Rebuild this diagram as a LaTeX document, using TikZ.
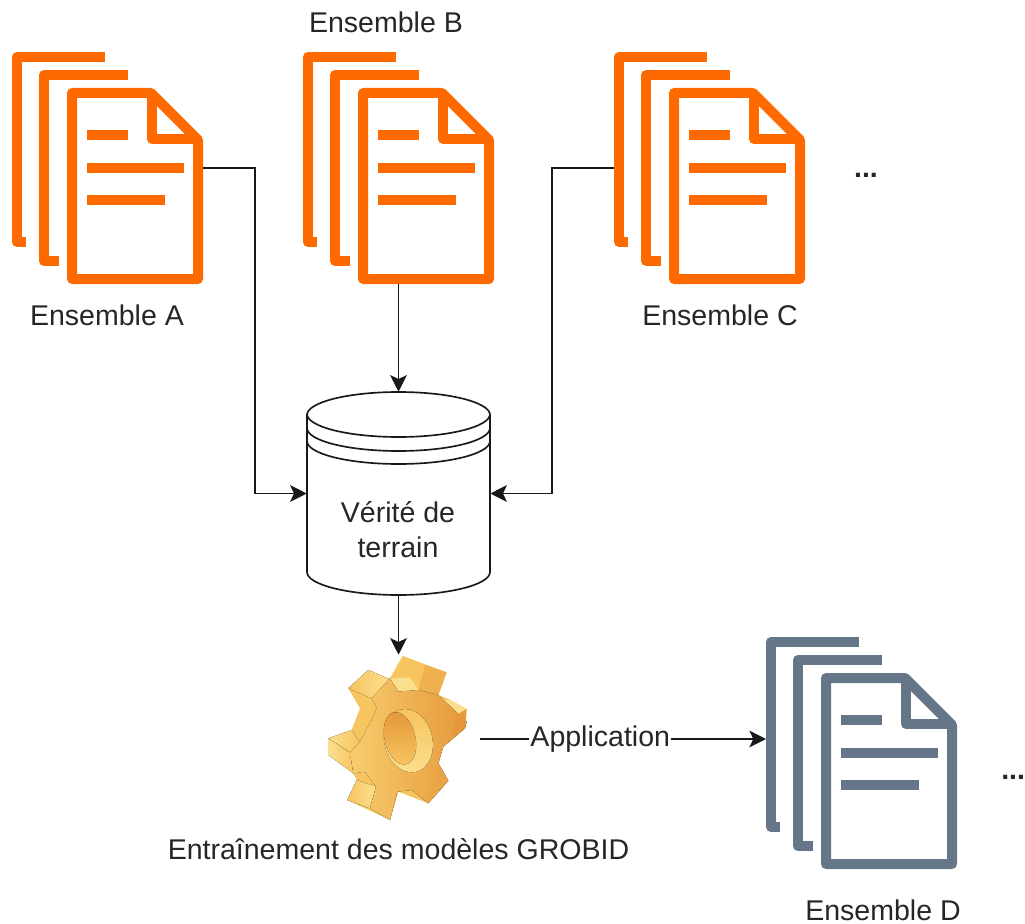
\documentclass[tikz,border=0pt]{standalone}
\usepackage{fontspec}
\setmainfont{Liberation Sans}
\usetikzlibrary{arrows.meta,calc}
\definecolor{docorange}{HTML}{FF6A00}
\definecolor{docslate}{HTML}{647687}
\definecolor{goldlight}{HTML}{FBDF8E}
\definecolor{goldmid}{HTML}{F6C560}
\definecolor{golddark}{HTML}{E6983A}
\tikzset{
  link/.style={draw=black!90,line width=1.25pt,-{Stealth[length=12.5pt,width=12.5pt,inset=3pt]}},
  plainlabel/.style={inner sep=0pt,font=\fontsize{21.4}{26}\selectfont,text=black!85},
  tankline/.style={draw=black!90,line width=1.25pt},
  docline/.style={line width=7.5pt,line join=round},
  pics/docstack/.style={code={
      \draw[docline,#1] (93,5) -- (5,5) -- (5,190) -- (14,190);
      \draw[docline,#1] (116,23) -- (32,23) -- (32,209) -- (47,209);
      \draw[docline,#1,fill=white] (60,41) -- (139,41) -- (186,88) -- (186,227) -- (60,227) -- cycle;
      \draw[docline,#1] (140,41) -- (140,87) -- (186,87);
      \draw[docline,#1] (75,83) -- (116,83);
      \draw[docline,#1] (75,116) -- (172,116);
      \draw[docline,#1] (75,148) -- (153,148);
      \coordinate (-east) at (191,116);
      \coordinate (-west) at (0,116);
      \coordinate (-south) at (95.5,232);
  }}
}
\begin{document}
\begin{tikzpicture}[x=0.75pt,y=-0.75pt]
  \useasboundingbox (0,0) rectangle (1025,924);
  % document stacks
  \pic (docA) at (12,52) {docstack=docorange};
  \pic (docB) at (303,52) {docstack=docorange};
  \pic (docC) at (614,52) {docstack=docorange};
  \pic (docD) at (766,637) {docstack=docslate};
  \node[plainlabel] (labelA) at (107,315) {Ensemble A};
  \node[plainlabel] (labelB) at (386,22) {Ensemble B};
  \node[plainlabel] (labelC) at (720,315) {Ensemble C};
  \node[plainlabel] (labelD) at (883,910) {Ensemble D};
  \node[plainlabel] (dotsC) at (866,175) {\textbf{...}};
  \node[plainlabel,anchor=west] (dotsD) at (1001,777) {\textbf{...}};
  % ground truth cylinder
  \node[minimum width=137.25pt,minimum height=152.25pt,inner sep=0pt] (truth) at (398.5,493.5) {};
  \draw[tankline] (307,415) arc[x radius=91.5,y radius=23,start angle=180,end angle=360]
    -- (490,572) arc[x radius=91.5,y radius=23,start angle=0,end angle=180] -- cycle;
  \draw[tankline] (307,414) arc[x radius=91.5,y radius=23,start angle=180,end angle=0];
  \draw[tankline] (307,428) arc[x radius=91.5,y radius=23,start angle=180,end angle=0];
  \draw[tankline] (307,441) arc[x radius=91.5,y radius=23,start angle=180,end angle=0];
  \node[plainlabel] (truthA) at (398,512) {Vérité de};
  \node[plainlabel] (truthB) at (398,547) {terrain};
  % gear
  \node[minimum width=122.25pt,minimum height=126pt,inner sep=0pt] (gear) at (398.5,739) {};
  \begin{scope}[shift={(310,640)},x=0.25pt,y=-0.25pt]
    % back silhouette
    \fill[goldmid] (278,48) -- (410,97) -- (385,165) -- (418,178) -- (470,207) -- (465,265) -- (400,320)
      -- (385,370) -- (415,422) -- (355,490) -- (265,455) -- (240,540) -- (112,480) -- (140,420)
      -- (130,400) -- (55,345) -- (55,295) -- (125,270) -- (150,205) -- (115,145) -- (175,90) -- (245,120) -- cycle;
    % tooth sides
    \fill[left color=goldmid,right color=goldlight] (115,145) -- (175,90) -- (240,118) -- (185,175) -- cycle;
    \fill[left color=goldlight,right color=goldmid] (55,295) -- (125,270) -- (150,310) -- (125,340) -- cycle;
    \fill[left color=goldlight,right color=goldmid] (55,295) -- (120,338) -- (130,400) -- (55,345) -- cycle;
    \fill[left color=goldmid,right color=goldlight] (140,420) -- (198,440) -- (180,505) -- (112,480) -- cycle;
    \fill[goldmid] (278,48) -- (345,75) -- (325,150) -- (262,155) -- (240,115) -- cycle;
    \fill[goldlight] (240,115) -- (265,155) -- (325,150) -- (300,112) -- cycle;
    \fill[golddark!45!goldmid] (345,75) -- (410,97) -- (385,165) -- (325,150) -- cycle;
    \fill[goldlight] (418,178) -- (470,207) -- (440,225) -- (395,185) -- cycle;
    % front face
    \fill[left color=goldmid!70!goldlight,right color=golddark] (185,175) -- (240,115) -- (265,155) -- (325,150) -- (385,165)
      -- (398,178) -- (470,245) -- (465,265) -- (400,320) -- (385,370) -- (415,422) -- (355,490) -- (305,450)
      -- (262,455) -- (240,540) -- (180,505) -- (198,440) -- (165,395) -- (130,400) -- (120,338) -- (150,305) -- (185,240) -- (200,205) -- cycle;
    \fill[golddark] (470,207) -- (465,265) -- (425,290) -- (440,225) -- cycle;
    % hole
    \fill[top color=goldmid,bottom color=goldlight,rotate around={14:(295,302)}] (295,302) ellipse[x radius=72,y radius=96];
    \fill[top color=golddark,bottom color=goldmid,rotate around={14:(270,295)}] (270,295) ellipse[x radius=46,y radius=80];
  \end{scope}
  \node[plainlabel] (gearlabel) at (398.5,849) {Entraînement des modèles GROBID};
  % connectors
  \draw[link] (docA-east) -- ++(52,0) |- (truth.west);
  \draw[link] (docB-south) -- (truth.north);
  \draw[link] (docC-west) -- ++(-62,0) |- (truth.east);
  \draw[link] (truth.south) -- (gear.north);
  \draw[link] (gear.east) -- (gear.east -| docD-west)
    node[pos=0.42,plainlabel,fill=white,inner xsep=1pt,inner ysep=2pt] (applabel) {Application};
\end{tikzpicture}
\end{document}
